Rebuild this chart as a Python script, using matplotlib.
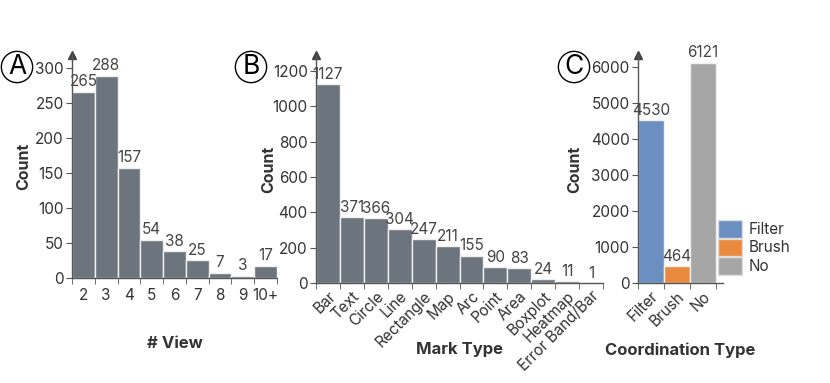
import matplotlib
matplotlib.use("Agg")
import matplotlib.pyplot as plt
from matplotlib.patches import Patch

plt.rcParams['font.family'] = ['Inter', 'DejaVu Sans']

view_cats = ["2", "3", "4", "5", "6", "7", "8", "9", "10+"]
view_counts = [265, 288, 157, 54, 38, 25, 7, 3, 17]

mark_cats = ["Bar", "Text", "Circle", "Line", "Rectangle", "Map", "Arc", "Point",
             "Area", "Boxplot", "Heatmap", "Error Band/Bar"]
mark_counts = [1127, 371, 366, 304, 247, 211, 155, 90, 83, 24, 11, 1]

coord_cats = ["Filter", "Brush", "No"]
coord_counts = [4530, 464, 6121]
coord_colors = ["#6b8fc1", "#e98a3f", "#a6a6a6"]

BAR = "#6c757d"
TXT = "#333333"
FS = 11
W, H = 830, 383
fig = plt.figure(figsize=(8.3, 3.83), dpi=100)


def ax_at(x0, x1, y_top, y_bot):
    return fig.add_axes([x0 / W, 1 - y_bot / H, (x1 - x0) / W, (y_bot - y_top) / H])


def style(ax, n, yticks, ymax, xlim=None):
    for s in ["top", "right"]:
        ax.spines[s].set_visible(False)
    for s in ["left", "bottom"]:
        ax.spines[s].set_color("#555555")
        ax.spines[s].set_linewidth(1.0)
    ax.set_ylim(0, ymax)
    ax.set_xlim(xlim if xlim else (-0.5, n - 0.5))
    ax.set_yticks(yticks)
    ax.set_xticks(range(n))
    ax.set_xticks([i - 0.5 for i in range(n + 1)], minor=True)
    ax.tick_params(axis="x", which="major", length=0, pad=7, labelsize=FS, labelcolor=TXT)
    ax.tick_params(axis="x", which="minor", length=4, color="#555555", direction="out")
    ax.tick_params(axis="y", length=4, color="#555555", labelsize=FS, labelcolor=TXT, pad=2)
    ax.plot([0], [1], marker="^", transform=ax.transAxes, clip_on=False,
            color="#444444", markersize=6)
    ax.set_ylabel("Count", fontsize=11.5, fontweight="bold", color=TXT)


def labels(ax, vals, off):
    for i, v in enumerate(vals):
        ax.text(i, v + off, str(v), ha="center", va="bottom", fontsize=FS, color="#444444")


# Panel A
axA = ax_at(72, 277, 55, 278)
axA.bar(range(len(view_cats)), view_counts, width=1.0, color=BAR, edgecolor="#f0f0f0", linewidth=1)
style(axA, len(view_cats), [0, 50, 100, 150, 200, 250, 300], 318)
axA.set_xticklabels(view_cats)
labels(axA, view_counts, 4)
axA.set_xlabel("# View", fontsize=12, fontweight="bold", color=TXT)
axA.xaxis.set_label_coords(0.5, -0.26)
axA.yaxis.set_label_coords(-0.2, 0.5)

# Panel B
axB = ax_at(316, 603, 55, 283)
axB.bar(range(len(mark_cats)), mark_counts, width=1.0, color=BAR, edgecolor="#f0f0f0", linewidth=1)
style(axB, len(mark_cats), [0, 200, 400, 600, 800, 1000, 1200], 1290)
axB.set_xticklabels(mark_cats, rotation=45, ha="right", rotation_mode="anchor")
axB.tick_params(axis="x", which="major", pad=4)
labels(axB, mark_counts, 12)
axB.set_xlabel("Mark Type", fontsize=12, fontweight="bold", color=TXT)
axB.xaxis.set_label_coords(0.5, -0.26)
axB.yaxis.set_label_coords(-0.14, 0.5)

# Panel C
axC = ax_at(638, 723, 55, 283)
axC.bar(range(len(coord_cats)), coord_counts, width=1.0, color=coord_colors, edgecolor="#f0f0f0", linewidth=1)
style(axC, len(coord_cats), [0, 1000, 2000, 3000, 4000, 5000, 6000], 6333, xlim=(-0.5, 2.77))
axC.set_xticks([i - 0.5 for i in range(len(coord_cats) + 1)], minor=True)
axC.set_xticklabels(coord_cats, rotation=45, ha="right", rotation_mode="anchor")
axC.tick_params(axis="x", which="major", pad=4)
labels(axC, coord_counts, 60)
axC.set_xlabel("Coordination Type", fontsize=12, fontweight="bold", color=TXT)
axC.xaxis.set_label_coords(0.5, -0.26)
axC.yaxis.set_label_coords(-0.66, 0.5)

handles = [Patch(facecolor=c, edgecolor="#dddddd", label=l) for c, l in zip(coord_colors, coord_cats)]
fig.legend(handles=handles, loc="upper left", bbox_to_anchor=(712 / W, 1 - 214 / H),
           frameon=False, fontsize=FS, handlelength=1.55, handleheight=1.4,
           labelspacing=0.05, handletextpad=0.45, labelcolor=TXT, borderaxespad=0)

# Circled panel letters
for x, lab in [(17, "A"), (251, "B"), (574, "C")]:
    fig.text(x / W, 1 - 67 / H, lab, ha="center", va="center", fontsize=19, color="black",
             bbox=dict(boxstyle="circle,pad=0.1", facecolor="white", edgecolor="black", linewidth=1.0))

fig.savefig("out.png", dpi=100, facecolor="white")
